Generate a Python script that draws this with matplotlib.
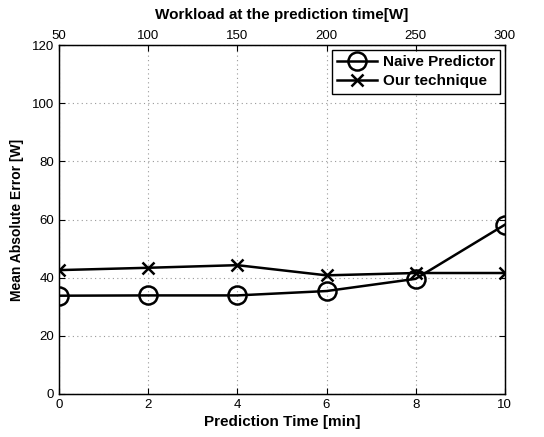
import matplotlib
matplotlib.use('Agg')
import matplotlib.pyplot as plt

plt.rcParams['font.family'] = ['Liberation Sans', 'DejaVu Sans']

# dados
pred_time = [0, 2, 4, 6, 8, 10]
naive = [33.8, 33.9, 33.9, 35.4, 39.6, 58.2]
ours = [42.6, 43.4, 44.3, 40.8, 41.6, 41.6]
workload_ticks = [50, 100, 150, 200, 250, 300]

fig = plt.figure(figsize=(5.44, 4.37), dpi=100)
ax = fig.add_axes([0.1085, 0.0984, 0.8195, 0.7986])

ax.plot(pred_time, naive, color='black', lw=1.8, marker='o', ms=13,
        mfc='none', mew=1.8, label='Naive Predictor')
ax.plot(pred_time, ours, color='black', lw=1.8, marker='x', ms=9,
        mew=1.8, label='Our technique')

ax.set_xlim(0, 10)
ax.set_ylim(0, 120)
ax.set_xticks(range(0, 11, 2))
ax.set_yticks(range(0, 121, 20))
ax.grid(True, color='#999999', linestyle=(0, (1, 3)), lw=0.8)
ax.tick_params(direction='in', top=False, right=True, labelsize=9.5, length=4)
ax.set_xlabel('Prediction Time [min]', fontsize=11, fontweight='bold', labelpad=3)
ax.set_ylabel('Mean Absolute Error [W]', fontsize=10, fontweight='bold', labelpad=6)

ax2 = ax.twiny()
ax2.set_xlim(50, 300)
ax2.set_xticks(workload_ticks)
ax2.tick_params(direction='in', labelsize=9.5, length=4, pad=2)
ax2.set_xlabel('Workload at the prediction time[W]', fontsize=11, fontweight='bold', labelpad=8)

leg = ax.legend(loc='upper right', prop={'weight': 'bold', 'size': 11},
                fancybox=False, edgecolor='black', framealpha=1,
                handlelength=2.6, borderaxespad=0.3, labelspacing=0.35,
                handletextpad=0.4, borderpad=0.35)
leg.get_frame().set_linewidth(1.0)

for s in ax.spines.values():
    s.set_linewidth(1.0)

fig.savefig('out.png', dpi=100)
